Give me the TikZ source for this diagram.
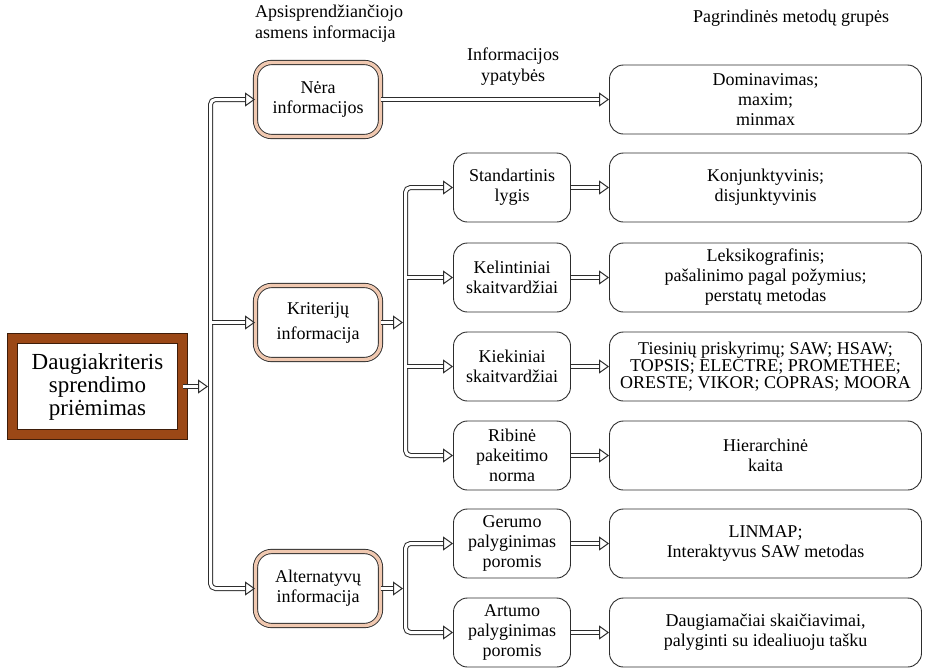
\documentclass[tikz,border=0pt]{standalone}
\usepackage{fontspec}
\setmainfont{Liberation Serif}
\usetikzlibrary{arrows.meta}
\definecolor{rust}{RGB}{155,72,22}
\definecolor{peach}{RGB}{240,200,176}
\definecolor{lc}{RGB}{45,45,45}
\begin{document}
\begin{tikzpicture}[x=1pt,y=-1pt,
  txt/.style={font=\fontsize{18}{20}\selectfont, align=center, inner sep=2pt},
  orbox/.style={txt, rounded corners=16pt, draw=lc, line width=0.9pt, double=peach, double distance=3.4pt, minimum width=125pt, minimum height=74pt},
  rbox/.style={txt, rounded corners=14pt, draw=lc, line width=0.9pt, minimum width=117pt, minimum height=69pt},
  mbox/.style={txt, rounded corners=14pt, draw=lc, line width=0.9pt, minimum width=312pt, minimum height=69pt},
  mainbox/.style={font=\fontsize{23}{23}\selectfont, align=center, draw=black!60!rust, double=rust, double distance=9pt, line width=1pt, minimum width=170pt, minimum height=96pt},
  conn/.style={draw=lc, line width=1pt, double=white, double distance=3pt, -{Triangle[open,length=10pt,width=14pt,line width=1pt]}},
  bus/.style={conn, rounded corners=5pt, {Triangle[open,length=10pt,width=14pt,line width=1pt]}-{Triangle[open,length=10pt,width=14pt,line width=1pt]}},
  head/.style={font=\fontsize{18}{21}\selectfont, inner sep=0pt}
]
\useasboundingbox (0,0) rectangle (925,667);

% headers
\node[head, align=left, anchor=north west] (h1) at (255,5) {Apsisprendžiančiojo\\asmens informacija};
\node[head, align=center] (h2) at (513,67) {Informacijos\\ypatybės};
\node[head] (h3) at (791,18) {Pagrindinės metodų grupės};

% main
\node[mainbox] (main) at (97.5,386.5) {Daugiakriteris\\sprendimo\\priėmimas};

% column 2
\node[orbox] (nera) at (318,99.5) {Nėra\\informacijos};
\node[orbox] (krit) at (318,322.5) {Kriterijų\\[5pt]informacija};
\node[orbox] (alt) at (318,588.5) {Alternatyvų\\informacija};

% column 3
\node[rbox] (std) at (512,187.5) {Standartinis\\lygis};
\node[rbox] (kel) at (512,277.5) {Kelintiniai\\skaitvardžiai};
\node[rbox] (kie) at (512,366.5) {Kiekiniai\\skaitvardžiai};
\node[rbox] (rib) at (512,455.5) {Ribinė\\pakeitimo\\norma};
\node[rbox] (ger) at (512,543.5) {Gerumo\\palyginimas\\poromis};
\node[rbox] (art) at (512,632.5) {Artumo\\palyginimas\\poromis};

% column 4
\node[mbox] (dom) at (765.5,99.5) {Dominavimas;\\maxim;\\minmax};
\node[mbox] (kon) at (765.5,187.5) {Konjunktyvinis;\\disjunktyvinis};
\node[mbox] (lek) at (765.5,277.5) {Leksikografinis;\\pašalinimo pagal požymius;\\perstatų metodas};
\node[mbox, font=\fontsize{18}{17}\selectfont] (tie) at (765.5,366.5) {Tiesinių priskyrimų; SAW; HSAW;\\TOPSIS; ELECTRE; PROMETHEE;\\ORESTE; VIKOR; COPRAS; MOORA};
\node[mbox] (hie) at (765.5,455.5) {Hierarchinė\\kaita};
\node[mbox] (lin) at (765.5,543.5) {LINMAP;\\Interaktyvus SAW metodas};
\node[mbox] (dau) at (765.5,632.5) {Daugiamačiai skaičiavimai,\\palyginti su idealiuoju tašku};

% bus coordinates
\coordinate (b1) at (210.5,322.5);
\coordinate (b1k) at (212,322.5);
\coordinate (b2) at (405.5,366.5);
\coordinate (b2kel) at (407,277.5);
\coordinate (b2kie) at (407,366.5);
\coordinate (b3) at (405.5,588.5);

% main to bus 1
\draw[conn] (main.east) -- ([xshift=-2.5pt]b1 |- main.east);
\draw[bus] (nera.west) -| (b1) |- (alt.west);
\draw[conn] (b1k) -- (krit.west);

% kriterijų to bus 2
\draw[conn] (krit.east) -- ([xshift=-2.5pt]b2 |- krit.east);
\draw[bus] (std.west) -| (b2) |- (rib.west);
\draw[conn] (b2kel) -- (kel.west);
\draw[conn] (b2kie) -- (kie.west);

% alternatyvų to bus 3
\draw[conn] (alt.east) -- ([xshift=-2.5pt]b3 |- alt.east);
\draw[bus] (ger.west) -| (b3) |- (art.west);

% to column 4
\draw[conn] (nera.east) -- (dom.west);
\draw[conn] (std.east) -- (kon.west);
\draw[conn] (kel.east) -- (lek.west);
\draw[conn] (kie.east) -- (tie.west);
\draw[conn] (rib.east) -- (hie.west);
\draw[conn] (ger.east) -- (lin.west);
\draw[conn] (art.east) -- (dau.west);
\end{tikzpicture}
\end{document}
